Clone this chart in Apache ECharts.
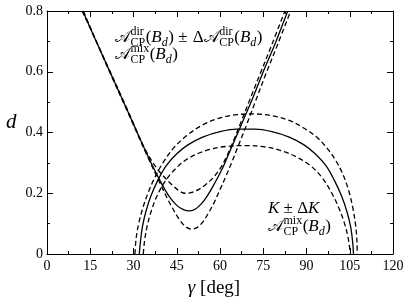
<!DOCTYPE html>
<html><head><meta charset="utf-8">
<script src="https://cdn.jsdelivr.net/npm/echarts@6/dist/echarts.min.js"></script>
<style>html,body{margin:0;padding:0;background:#fff;font-family:"Liberation Serif",serif}#c{width:409px;height:299px}</style>
</head><body><div id="c"></div>
<script>
// ---- data (gamma [deg], d) ----
const xTicks = [0, 15, 30, 45, 60, 75, 90, 105, 120];
const yTicks = [0, 0.2, 0.4, 0.6, 0.8];

// A_dir ± ΔA_dir with A_mix : central (solid) and the two error curves (dashed)
const dirCentral = [[12.4,0.8],[20,0.638],[28,0.47],[35,0.322],[39,0.245],[42,0.195],[45,0.16],[47.5,0.145],[49.6,0.142],[51.5,0.148],[53.5,0.165],[55.5,0.19],[57.5,0.222],[59.5,0.257],[61,0.285],[63.5,0.34],[66,0.395],[68.5,0.45],[71,0.505],[75,0.6],[79,0.69],[83.5,0.8]];
const dirUpper = [[12.2,0.8],[20,0.64],[28,0.473],[34,0.345],[38,0.283],[41,0.25],[44,0.222],[46,0.207],[47.9,0.2],[50,0.202],[52.5,0.212],[55,0.228],[57.5,0.25],[60,0.28],[62.5,0.325],[65,0.38],[67.5,0.44],[70,0.5],[74,0.595],[78,0.69],[82.5,0.8]];
const dirLower = [[12.6,0.8],[20,0.636],[28,0.467],[35,0.318],[39,0.237],[42,0.178],[45,0.127],[47.5,0.095],[50,0.082],[52,0.087],[54,0.105],[56,0.135],[58,0.17],[60,0.212],[62,0.255],[64,0.3],[66.5,0.36],[69,0.42],[72,0.495],[76,0.595],[80,0.69],[84.5,0.8]];

// K ± ΔK with A_mix : central (solid) and error curves (dashed)
const kCentral = [[32,0],[32.4,0.04],[33.1,0.09],[34.3,0.14],[36,0.19],[38.3,0.24],[41.3,0.29],[45,0.33],[49,0.36],[54,0.385],[60,0.403],[66,0.411],[72,0.411],[78,0.403],[84,0.385],[89,0.36],[93,0.33],[96.8,0.29],[99.8,0.24],[102.2,0.19],[104,0.14],[105.3,0.09],[106,0.04],[106.3,0]];
const kOuter = [[30.5,0],[30.9,0.05],[31.8,0.1],[33.2,0.15],[35,0.2],[37.3,0.25],[40.2,0.3],[44,0.35],[48.5,0.39],[54,0.425],[60,0.448],[66,0.459],[72,0.461],[78,0.455],[84,0.44],[89,0.415],[93.5,0.385],[97,0.35],[100,0.31],[102.5,0.265],[104.6,0.21],[106.1,0.15],[107.1,0.09],[107.5,0.04],[107.6,0]];
const kInner = [[33.4,0],[33.8,0.04],[34.7,0.09],[36.1,0.14],[38.1,0.19],[41,0.24],[44.5,0.28],[49,0.315],[55,0.34],[62,0.354],[69,0.357],[76,0.352],[82,0.338],[87,0.317],[91.5,0.29],[95.5,0.25],[98.8,0.2],[101.3,0.15],[103.2,0.1],[104.5,0.05],[105.2,0]];

// ---- text helpers ----
const SERIF = '"Liberation Serif"';
const CAL = '"DejaVu Serif"';
const mctx = document.createElement('canvas').getContext('2d');
function tw(font, t){ mctx.font = font; return mctx.measureText(t).width; }
function txt(x, y, t, font){
  return {type:'text', x:x, y:y, silent:true,
    style:{text:t, font:font, fill:'#000', align:'left', verticalAlign:'middle', textAlign:'left', textVerticalAlign:'middle'}};
}
function mathLine(x, y, S, parts, out){
  const s = Math.round(S*0.68);
  const fMain = S+'px '+SERIF, fIt = 'italic '+S+'px '+SERIF, fScr = s+'px '+SERIF, fScrIt = 'italic '+s+'px '+SERIF, fCal = (S-1)+'px '+CAL;
  let cx = x;
  for (const p of parts){
    if (p.t !== undefined){
      const f = p.cal ? fCal : (p.it ? fIt : fMain);
      out.push(txt(cx, y, p.t, f));
      cx += tw(f, p.t) + (p.gap || 0);
    } else {
      let ww = 0;
      if (p.sup){ const f = p.supIt ? fScrIt : fScr; out.push(txt(cx, y - S*0.36, p.sup, f)); ww = Math.max(ww, tw(f, p.sup)); }
      if (p.sub){ const f = p.subIt ? fScrIt : fScr; out.push(txt(cx, y + S*0.3, p.sub, f)); ww = Math.max(ww, tw(f, p.sub)); }
      cx += ww + 0.5;
    }
  }
}
const A = {t:'\u{1D49C}', cal:true, gap:0.5};
const Bd = [{t:'('},{t:'B', it:true},{sub:'d', subIt:true},{t:')'}];
const graphics = [];
mathLine(115, 38, 17, [A,{sup:'dir', sub:'CP'},...Bd,{t:' \u00B1 ', gap:1},{t:'\u0394'},A,{sup:'dir', sub:'CP'},...Bd], graphics);
mathLine(115, 55, 17, [A,{sup:'mix', sub:'CP'},...Bd], graphics);
mathLine(268, 209, 17, [{t:'K', it:true},{t:' \u00B1 \u0394'},{t:'K', it:true}], graphics);
mathLine(268, 227, 17, [A,{sup:'mix', sub:'CP'},...Bd], graphics);
// axis titles
graphics.push(txt(6, 122, 'd', 'italic 21px '+SERIF));
(function(){
  const fI = 'italic 19px '+SERIF, fR = '19px '+SERIF;
  const w1 = tw(fI,'\u03B3'), w2 = tw(fR,' [deg]');
  const x0 = 214 - (w1+w2)/2;
  graphics.push(txt(x0, 288, '\u03B3', fI));
  graphics.push(txt(x0+w1, 288, ' [deg]', fR));
})();

// ---- chart ----
const chart = echarts.init(document.getElementById('c'), null, {renderer:'canvas'});
const lineC = '#000';
const tickRich = {s:{color:'#000', fontFamily:'Liberation Serif', fontSize:14}};
function axisX(pos, labels){
  return {type:'value', position:pos, min:xTicks[0], max:xTicks[xTicks.length-1], interval:xTicks[1]-xTicks[0],
    axisLine:{show:true, onZero:false, lineStyle:{color:lineC, width:1}},
    axisTick:{show:true, inside:true, length:6, lineStyle:{color:lineC}},
    minorTick:{show:true, splitNumber:2, length:3, lineStyle:{color:lineC}},
    splitLine:{show:false}, minorSplitLine:{show:false},
    axisLabel:{show:labels, margin:5, formatter:v => '{s|' + v + '}', rich:tickRich}};
}
function axisY(pos, labels){
  return {type:'value', position:pos, min:yTicks[0], max:yTicks[yTicks.length-1], interval:yTicks[1]-yTicks[0],
    axisLine:{show:true, onZero:false, lineStyle:{color:lineC, width:1}},
    axisTick:{show:true, inside:true, length:6, lineStyle:{color:lineC}},
    minorTick:{show:true, splitNumber:2, length:3, lineStyle:{color:lineC}},
    splitLine:{show:false}, minorSplitLine:{show:false},
    axisLabel:{show:labels, margin:4, formatter:v => '{s|' + v + '}', rich:tickRich}};
}
function ser(data, dashed){
  return {type:'line', data:data, xAxisIndex:0, yAxisIndex:0, showSymbol:false, symbol:'none', smooth:0.35,
    lineStyle:{color:'#000', width:1.3, type: dashed ? [5,3] : 'solid'}, emphasis:{disabled:true}, clip:true};
}
chart.setOption({
  animation:false,
  backgroundColor:'#fff',
  textStyle:{fontFamily:'Liberation Serif', color:'#000'},
  grid:{left:47, right:16, top:11, bottom:45},
  xAxis:[axisX('bottom', true), axisX('top', false)],
  yAxis:[axisY('left', true), axisY('right', false)],
  series:[ser(dirCentral,false), ser(dirUpper,true), ser(dirLower,true),
          ser(kCentral,false), ser(kOuter,true), ser(kInner,true)],
  graphic:graphics
});
</script></body></html>
